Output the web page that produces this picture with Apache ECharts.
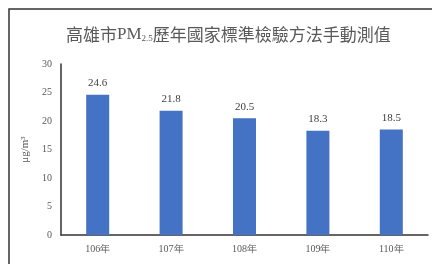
<!DOCTYPE html>
<html>
<head>
<meta charset="utf-8">
<script src="https://cdn.jsdelivr.net/npm/echarts@6/dist/echarts.min.js"></script>
<style>
  html, body { margin: 0; padding: 0; background: #fff; }
  #chart { width: 432px; height: 264px; }
</style>
</head>
<body>
<div id="chart"></div>
<script>
  const years = ['106年', '107年', '108年', '109年', '110年'];
  const pm25 = [24.6, 21.8, 20.5, 18.3, 18.5];
  const yTicks = [0, 5, 10, 15, 20, 25, 30];

  const chart = echarts.init(document.getElementById('chart'));
  const serif = '"Liberation Serif", "DejaVu Serif", serif';

  chart.setOption({
    animation: false,
    graphic: [{
      type: 'rect',
      shape: { x: 9, y: 9, width: 440, height: 280 },
      style: { fill: 'none', stroke: '#333', lineWidth: 1.5 }
    }],
    title: {
      text: '{a|高雄市}{p|PM}{s|2.5}{a|歷年國家標準檢驗方法手動測值}',
      left: 61,
      top: 21,
      textStyle: {
        rich: {
          a: { fontFamily: '"Noto Sans CJK TC"', fontSize: 17, fontWeight: 'normal', color: '#595959' },
          p: { fontFamily: serif, fontSize: 17, fontWeight: 'normal', color: '#595959' },
          s: { fontFamily: serif, fontSize: 9, fontWeight: 'normal', color: '#595959', verticalAlign: 'bottom', padding: [8, 0, 0, 0] }
        }
      }
    },
    grid: { left: 61, right: 4, top: 64, bottom: 29 },
    xAxis: {
      type: 'category',
      data: years,
      axisLine: { lineStyle: { color: '#333', width: 1.5 } },
      axisTick: { show: false },
      axisLabel: { color: '#595959', fontSize: 10, fontFamily: serif, margin: 9 }
    },
    yAxis: {
      type: 'value',
      min: yTicks[0],
      max: yTicks[yTicks.length - 1],
      interval: 5,
      name: 'μg/m³',
      nameLocation: 'middle',
      nameGap: 22,
      nameTextStyle: { color: '#595959', fontSize: 11, fontFamily: serif },
      axisLine: { show: true, lineStyle: { color: '#333', width: 1.5 } },
      axisTick: { show: false },
      splitLine: { show: false },
      axisLabel: { color: '#595959', fontSize: 10, fontFamily: serif, margin: 9 }
    },
    series: [{
      type: 'bar',
      data: pm25,
      barWidth: 23,
      itemStyle: { color: '#4472c4' },
      label: {
        show: true,
        position: 'top',
        distance: 6,
        color: '#404040',
        fontSize: 11,
        fontFamily: serif
      }
    }]
  });
</script>
</body>
</html>
